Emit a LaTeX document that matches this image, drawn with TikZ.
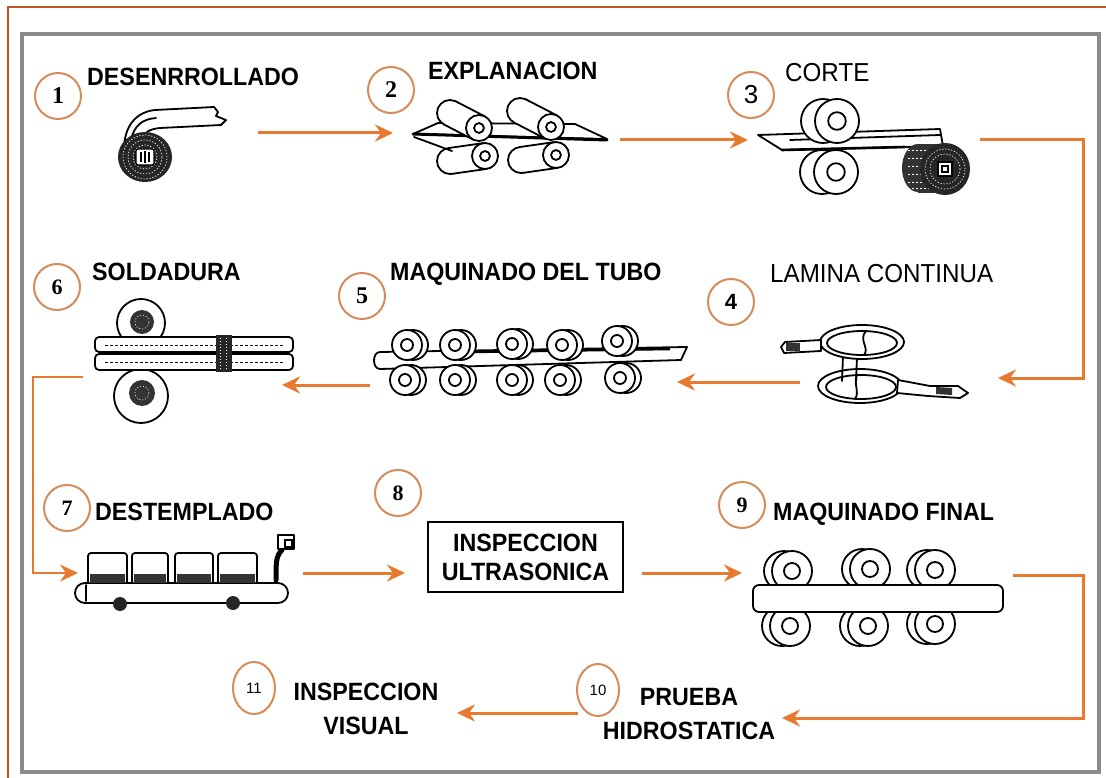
\documentclass[tikz,border=0pt]{standalone}
\usepackage{fontspec}
\setmainfont{Liberation Sans}
\newfontfamily\labfont{Liberation Sans}[FakeStretch=0.93]
\newfontfamily\numserif{Liberation Serif}
\newfontfamily\numsans{Liberation Sans}
\usetikzlibrary{arrows.meta,calc,shapes.geometric}

\definecolor{flowc}{RGB}{232,122,48}
\definecolor{ringc}{RGB}{214,140,90}
\definecolor{edgec}{RGB}{190,85,35}
\definecolor{framec}{RGB}{138,138,138}

\tikzset{
  ink/.style={draw=black, line width=1.8pt, line join=round, line cap=round},
  flow/.style={draw=flowc, line width=3pt, line join=miter,
    -{Stealth[length=18pt,width=17pt,inset=6pt]}},
  numring/.style={circle, draw=ringc, line width=2pt, fill=white,
    minimum size=46pt, inner sep=0pt},
  numoval/.style={ellipse, draw=ringc, line width=2pt, fill=white,
    minimum width=42pt, minimum height=52pt, inner sep=0pt},
  lbl/.style={font=\labfont\bfseries\fontsize{25}{30}\selectfont,
    inner sep=0pt, anchor=west},
  lblr/.style={font=\labfont\fontsize{26}{30}\selectfont,
    inner sep=0pt, anchor=west},
  lbltwo/.style={font=\labfont\bfseries\fontsize{25}{34}\selectfont,
    inner sep=0pt, align=center},
}

% roller seen at an angle: front disc at (#1,#2), back end at (#3,#4), radius #5
\newcommand{\cylroll}[5]{%
  \coordinate (rf) at (#1,#2);
  \coordinate (rb) at (#3,#4);
  \draw[ink, fill=white] (rb) circle[radius=#5];
  \fill[white] ($(rb)!#5!90:(rf)$) -- ($(rf)!#5!-90:(rb)$)
     -- ($(rf)!#5!90:(rb)$) -- ($(rb)!#5!-90:(rf)$) -- cycle;
  \draw[ink] ($(rb)!#5!90:(rf)$) -- ($(rf)!#5!-90:(rb)$)
             ($(rb)!#5!-90:(rf)$) -- ($(rf)!#5!90:(rb)$);
  \draw[ink, fill=white] (rf) circle[radius=#5];
  \draw[ink] (rf) circle[radius=0.38*#5];
}
% double disc roller: centre (#1,#2), radius #3, rear disc shifted by #4
\newcommand{\dubdisc}[4]{%
  \draw[ink, fill=white] ({#1+#4},#2) circle[radius=#3*1pt];
  \draw[ink, fill=white] (#1,#2) circle[radius=#3*1pt];
  \draw[ink] (#1,#2) circle[radius=#3*0.4pt];
}

\begin{document}
\begin{tikzpicture}[x=1pt,y=-1pt]
\useasboundingbox (0,0) rectangle (1106,778);
\fill[white] (0,0) rectangle (1106,778);
\draw[edgec, line width=2pt] (8,778) -- (8,7) -- (1106,7);
\draw[framec, line width=3.5pt] (22,34) rectangle (1099,772);

% ---------- step numbers ----------
\node[numring] (n1) at (58,96) {\numserif\bfseries\fontsize{24}{24}\selectfont 1};
\node[numring] (n2) at (391,90) {\numserif\bfseries\fontsize{24}{24}\selectfont 2};
\node[numring] (n3) at (751,95) {\numsans\fontsize{26}{26}\selectfont 3};
\node[numring] (n4) at (731,302) {\numsans\bfseries\fontsize{22}{22}\selectfont 4};
\node[numring] (n5) at (362,296) {\numserif\bfseries\fontsize{24}{24}\selectfont 5};
\node[numring] (n6) at (57,287) {\numserif\bfseries\fontsize{22}{22}\selectfont 6};
\node[numring] (n7) at (67,508) {\numserif\bfseries\fontsize{22}{22}\selectfont 7};
\node[numring] (n8) at (398,493) {\numserif\bfseries\fontsize{22}{22}\selectfont 8};
\node[numring] (n9) at (742,505) {\numserif\bfseries\fontsize{22}{22}\selectfont 9};
\node[numoval] (n10) at (598,690) {\numsans\fontsize{15}{15}\selectfont 10};
\node[numoval] (n11) at (254,688) {\numsans\fontsize{15}{15}\selectfont 11};

% ---------- step titles ----------
\node[lbl] (t1) at (87,77) {DESENRROLLADO};
\node[lbl] (t2) at (428,71) {EXPLANACION};
\node[lblr] (t3) at (785,73) {CORTE};
\node[lblr] (t4) at (770,274) {LAMINA CONTINUA};
\node[lbl] (t5) at (390,274) {MAQUINADO DEL TUBO};
\node[lbl] (t6) at (92,272) {SOLDADURA};
\node[lbl] (t7) at (95,512) {DESTEMPLADO};
\node[draw=black, line width=1.6pt, minimum width=195pt, minimum height=70pt,
      inner sep=0pt, align=center,
      font=\labfont\bfseries\fontsize{25}{29}\selectfont]
      (t8) at (525.5,557) {INSPECCION\\ULTRASONICA};
\node[lbl] (t9) at (773,514) {MAQUINADO FINAL};
\node[lbltwo] (t10) at (689,714) {PRUEBA\\HIDROSTATICA};
\node[lbltwo] (t11) at (366,709) {INSPECCION\\VISUAL};

% ---------- 1: uncoiling ----------
\draw[ink, fill=white] (124,150) .. controls (124,126) and (136,112) .. (155,110)
  -- (214,107) -- (218,112) -- (216,116) -- (226,120) -- (221,125)
  -- (160,128) .. controls (150,129) and (144,132) .. (141,140) -- cycle;
\draw[ink] (131,140) .. controls (134,126) and (142,119) .. (156,118);
\fill[black!85] (145,157) ellipse[x radius=27pt, y radius=25pt];
\foreach \r in {22,17,12}
  \draw[white, line width=0.7pt, dash pattern=on 1.2pt off 1.8pt]
    (145,157) circle[radius=\r*1pt];
\draw[fill=white, line width=1.2pt, rounded corners=2pt] (136,149) rectangle (154,165);
\draw[line width=1.2pt] (141,152) -- (141,162) (145,151) -- (145,163) (149,152) -- (149,162);

% ---------- 2: flattening ----------
\cylroll{485}{156}{450}{161}{13pt}
\cylroll{556}{155}{521}{160}{13pt}
\draw[ink, fill=white] (413,134) -- (438,123) -- (575,124) -- (607,139) -- cycle;
\draw[black, line width=3pt, line cap=round] (413,134) -- (607,140);
\draw[ink] (414,137) -- (452,151);
\cylroll{479}{128}{450}{113}{13pt}
\cylroll{551}{127}{520}{111}{13pt}

% ---------- 3: cutting ----------
\dubdisc{836}{172}{22}{-14}
\draw[ink, fill=white] (758,135) -- (940,129) -- (943,146) -- (905,147)
  -- (782,150) -- cycle;
\draw[black, line width=2.6pt, line cap=round] (782,150) -- (905,147);
\draw[ink] (790,140) -- (940,135);
\dubdisc{837}{121}{22}{-14}
% sheet coil
\fill[black!80] (918,168) ellipse[x radius=16pt, y radius=24pt];
\fill[black!80] (918,144) rectangle (945,193);
\foreach \yy in {150,158,166,174,182,188}
  \draw[white, line width=0.6pt, dash pattern=on 2pt off 2pt] (908,\yy) -- (935,\yy);
\fill[black!85] (945,169) ellipse[x radius=25pt, y radius=26pt];
\foreach \r in {20,15}
  \draw[white, line width=0.7pt, dash pattern=on 1.2pt off 1.8pt]
    (945,169) circle[radius=\r*1pt];
\draw[fill=white, line width=1.2pt] (938,162) rectangle (952,176);
\draw[line width=1.2pt] (942,166) rectangle (948,172);

% ---------- 4: continuous strip ----------
\draw[ink, fill=white] (860,386) ellipse[x radius=42pt, y radius=17pt];
\draw[ink] (861,387) ellipse[x radius=35pt, y radius=12pt];
\draw[ink] (857,375) .. controls (853,383) and (860,392) .. (855,399);
\draw[ink, fill=white] (898,380) -- (930,386) -- (958,386) -- (968,393)
  -- (960,398) -- (928,396) -- (897,393) -- cycle;
\fill[black!80] (936,387) -- (952,388) -- (952,395) -- (936,394) -- cycle;
\draw[ink] (843,356) -- (842,381) (857,357) -- (856,382);
\draw[ink, fill=white] (862,342) ellipse[x radius=42pt, y radius=17pt];
\draw[ink] (862,343) ellipse[x radius=35pt, y radius=12pt];
\draw[ink] (866,331) .. controls (858,340) and (870,348) .. (864,355);
\draw[ink, fill=white] (821,340) -- (785,342) -- (781,347) -- (784,353) -- (821,351) -- cycle;
\fill[black!80] (786,343) -- (800,343) -- (800,351) -- (786,351) -- cycle;

% ---------- 5: tube forming ----------
\draw[ink, fill=white] (380,352) -- (687,347) -- (681,360) -- (380,369)
  .. controls (372,369) and (372,352) .. (380,352) -- cycle;
\draw[black, line width=2.5pt] (470,352) -- (670,349);
\foreach \xx/\yy in {407/345, 455/345, 512/344, 562/345, 617/341,
                     405/380, 455/380, 512/380, 560/380, 620/378}
  {\dubdisc{\xx}{\yy}{15}{6}}

% ---------- 6: welding ----------
\draw[ink, fill=white] (141,323) circle[radius=24pt];
\draw[ink, fill=white] (141,396) circle[radius=27pt];
\fill[black!80] (142,322) circle[radius=12pt];
\fill[black!80] (142,393) circle[radius=13pt];
\foreach \c in {322,393}
  \draw[white, line width=0.6pt, dash pattern=on 1pt off 2pt] (142,\c) circle[radius=7pt];
\draw[ink, fill=white, rounded corners=4pt] (95,337) rectangle (293,352);
\draw[ink, fill=white, rounded corners=4pt] (95,354) rectangle (293,370);
\draw[line width=1pt, dash pattern=on 3pt off 2pt] (105,345) -- (285,345) (105,362) -- (285,362);
\fill[black!85] (216,335) rectangle (232,372);
\draw[white, line width=0.6pt, dash pattern=on 1pt off 2pt] (220,338) -- (220,369) (226,338) -- (226,369);

% ---------- 7: annealing ----------
\draw[ink, fill=white, rounded corners=10pt] (75,583) rectangle (288,603);
\draw[ink] (86,585) -- (86,601);
\fill[black!85] (120,604) circle[radius=7pt];
\fill[black!85] (233,603) circle[radius=7pt];
\foreach \xa/\xb in {88/127, 132/168, 175/213, 218/257} {
  \draw[ink, fill=white, rounded corners=3pt] (\xa,582) -- (\xa,553) -- (\xb,553) -- (\xb,582);
  \fill[black!80] (\xa+2,574) rectangle (\xb-2,583);
}
\draw[black, line width=5pt, line cap=round] (282,550) .. controls (276,556) and (276,562) .. (276,580);
\draw[ink, fill=white] (278,535) rectangle (294,549);
\draw[line width=1.2pt] (285,540) rectangle (292,547);

% ---------- 9: final machining ----------
\foreach \xx/\yy in {792/571, 870/569, 935/570, 790/626, 868/626, 935/624}
  {\dubdisc{\xx}{\yy}{20}{-8}}
\draw[ink, fill=white, rounded corners=6pt] (753,585) rectangle (1003,612);

% ---------- flow connectors ----------
\coordinate (c1) at (258,133);  \coordinate (c2) at (393,133);
\coordinate (c3) at (620,140);  \coordinate (c4) at (748,140);
\coordinate (c5) at (980,140);  \coordinate (c5b) at (1083,140);
\coordinate (c5c) at (1083,378); \coordinate (c6) at (998,378);
\coordinate (c7) at (800,382);  \coordinate (c8) at (677,382);
\coordinate (c9) at (370,385);  \coordinate (c10) at (282,385);
\coordinate (c11) at (83,377);  \coordinate (c11b) at (33,377);
\coordinate (c11c) at (33,573); \coordinate (c12) at (78,573);
\coordinate (c13) at (303,573); \coordinate (c14) at (405,573);
\coordinate (c15) at (642,573); \coordinate (c16) at (742,573);
\coordinate (c17) at (1013,575); \coordinate (c17b) at (1083,575);
\coordinate (c17c) at (1083,718); \coordinate (c18) at (782,718);
\coordinate (c19) at (578,713); \coordinate (c20) at (457,713);

\draw[flow] (c1) -- (c2);
\draw[flow] (c3) -- (c4);
\draw[flow] (c5) -- (c5b) -- (c5c) -- (c6);
\draw[flow] (c7) -- (c8);
\draw[flow] (c9) -- (c10);
\draw[flow, line width=2.2pt] (c11) -- (c11b) -- (c11c) -- (c12);
\draw[flow] (c13) -- (c14);
\draw[flow] (c15) -- (c16);
\draw[flow] (c17) -- (c17b) -- (c17c) -- (c18);
\draw[flow] (c19) -- (c20);
\end{tikzpicture}
\end{document}
